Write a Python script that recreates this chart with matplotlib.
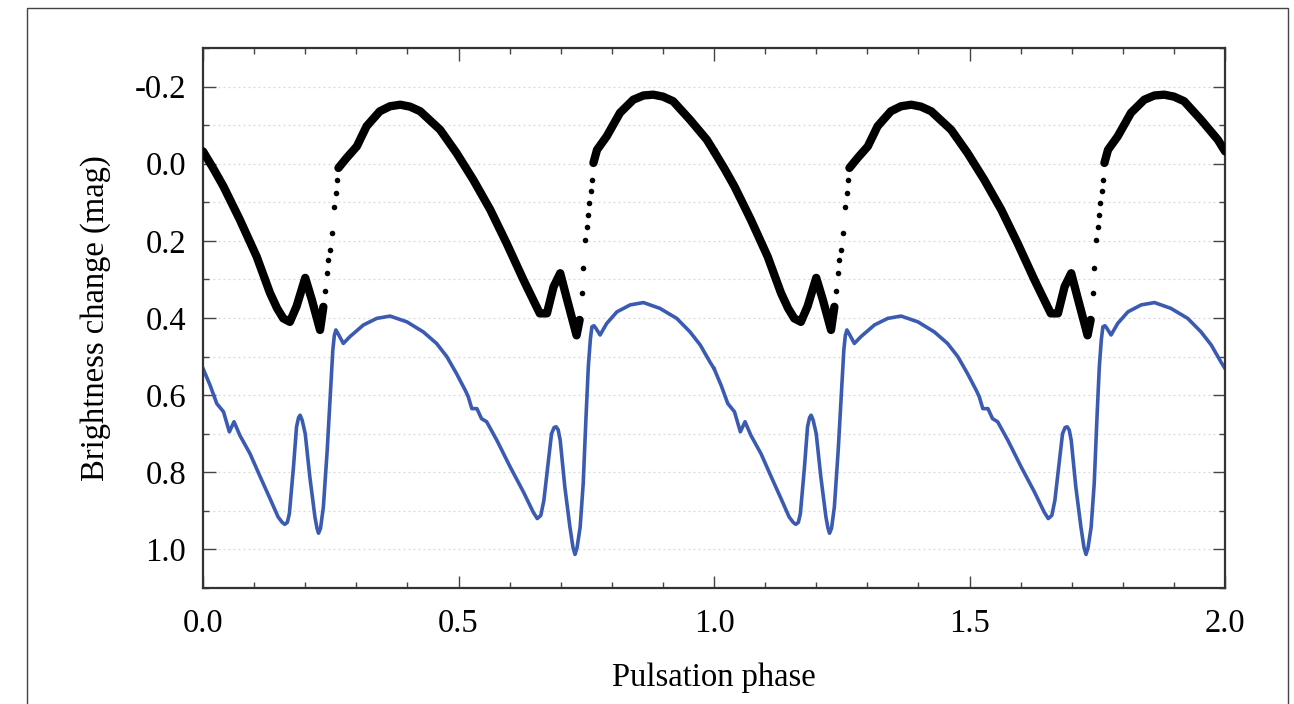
import numpy as np
import matplotlib
matplotlib.use("Agg")
import matplotlib.pyplot as plt
from matplotlib.ticker import MultipleLocator
from matplotlib.patches import Rectangle

# one pulsation cycle (phase 0-1), repeated once to reach phase 2
# observed light curve: dense band, gaps where the steep rise is
band_phase = [0.0, 0.02, 0.04, 0.072, 0.105, 0.131, 0.145, 0.157, 0.170, 0.183, 0.200,
              0.213, 0.229, 0.2355, np.nan,
              0.265, 0.281, 0.301, 0.320, 0.346, 0.366, 0.386, 0.405, 0.425, 0.464, 0.496,
              0.529, 0.562, 0.594, 0.627, 0.645, 0.659, 0.673, 0.686, 0.699, 0.711,
              0.731, 0.737, np.nan,
              0.764, 0.771, 0.790, 0.816, 0.842, 0.862, 0.881, 0.900, 0.920, 0.953, 0.986, 1.0]
band_mag = [-0.032, 0.012, 0.059, 0.145, 0.241, 0.335, 0.375, 0.401, 0.410, 0.370, 0.296,
            0.353, 0.431, 0.371, np.nan,
            0.011, -0.015, -0.045, -0.097, -0.136, -0.149, -0.153, -0.148, -0.136, -0.088, -0.028,
            0.042, 0.119, 0.206, 0.301, 0.350, 0.388, 0.388, 0.319, 0.284, 0.345,
            0.445, 0.405, np.nan,
            -0.002, -0.036, -0.071, -0.132, -0.166, -0.177, -0.179, -0.174, -0.162, -0.114, -0.062, -0.032]

# isolated points on the rising branches
rise_phase = [0.2355, 0.239, 0.242, 0.2455, 0.2485, 0.252, 0.256, 0.2595, 0.2616, 0.265,
              0.734, 0.741, 0.744, 0.7475, 0.751, 0.754, 0.756, 0.7585, 0.7606, 0.764]
rise_mag = [0.371, 0.330, 0.284, 0.250, 0.223, 0.180, 0.111, 0.075, 0.042, 0.011,
            0.405, 0.336, 0.270, 0.197, 0.163, 0.132, 0.102, 0.070, 0.042, -0.002]

# model light curve
model_phase = [0.0, 0.0137, 0.027, 0.040, 0.0515, 0.0607, 0.072, 0.092, 0.112, 0.131,
               0.147, 0.155, 0.160, 0.165, 0.169, 0.177, 0.183, 0.187, 0.190, 0.194,
               0.200, 0.209, 0.219, 0.223, 0.226, 0.230,
               0.2355, 0.243, 0.2485, 0.254, 0.257, 0.260, 0.264, 0.2746, 0.2877, 0.314, 0.340, 0.366,
               0.399, 0.431, 0.457, 0.477, 0.496, 0.513, 0.519, 0.526, 0.536, 0.545,
               0.555, 0.575, 0.601, 0.627, 0.646, 0.654, 0.661, 0.667, 0.676, 0.682,
               0.687, 0.691, 0.695, 0.699, 0.708, 0.718, 0.724, 0.728, 0.732, 0.738, 0.744,
               0.7495, 0.754, 0.758, 0.761, 0.765,
               0.769, 0.777, 0.790, 0.810, 0.836, 0.862, 0.894, 0.927, 0.953, 0.973,
               0.992, 1.0]
model_mag = [0.531, 0.574, 0.622, 0.643, 0.695, 0.669, 0.704, 0.752, 0.812, 0.868,
             0.916, 0.930, 0.935, 0.930, 0.907, 0.786, 0.682, 0.658, 0.652, 0.665,
             0.700, 0.812, 0.916, 0.945, 0.958, 0.945,
             0.890, 0.743, 0.613, 0.483, 0.445, 0.431, 0.440, 0.466, 0.448, 0.418, 0.401, 0.395,
             0.410, 0.436, 0.466, 0.500, 0.544, 0.587, 0.604, 0.635, 0.635, 0.661,
             0.669, 0.717, 0.786, 0.851, 0.903, 0.920, 0.912, 0.873, 0.769, 0.700,
             0.684, 0.682, 0.690, 0.717, 0.838, 0.942, 0.995, 1.013, 0.995, 0.942, 0.829,
             0.656, 0.526, 0.455, 0.423, 0.420,
             0.427, 0.444, 0.414, 0.384, 0.366, 0.360, 0.375, 0.401, 0.436, 0.470,
             0.514, 0.531]

plt.rcParams["font.family"] = ["Liberation Serif", "DejaVu Serif"]

fig = plt.figure(figsize=(12.94, 7.04), dpi=100)
ax = fig.add_axes([0.1569, 0.1648, 0.7898, 0.767])

# outer frame around the figure
fig.patches.append(Rectangle((27 / 1294, -0.05), 1261 / 1294, 1.05 - 8 / 704,
                             transform=fig.transFigure, fill=False,
                             edgecolor="#444444", linewidth=1.0))

for shift in [0.0, 1.0]:
    bp = np.array(band_phase) + shift
    rp = np.array(rise_phase) + shift
    mp = np.array(model_phase) + shift
    ax.plot(bp, band_mag, color="black", lw=6.0, solid_capstyle="round",
            solid_joinstyle="round", zorder=3)
    ax.scatter(rp, rise_mag, s=16, color="black", zorder=3, linewidths=0)
    ax.plot(mp, model_mag, color="#3b5bb3", lw=2.6, zorder=2,
            solid_joinstyle="round")

ax.set_xlim(0, 2)
ax.set_ylim(1.1, -0.3)

ax.xaxis.set_major_locator(MultipleLocator(0.5))
ax.xaxis.set_minor_locator(MultipleLocator(0.1))
ax.yaxis.set_major_locator(MultipleLocator(0.2))
ax.yaxis.set_minor_locator(MultipleLocator(0.1))
ax.xaxis.set_major_formatter(plt.FuncFormatter(lambda v, p: f"{v:.1f}"))
ax.yaxis.set_major_formatter(plt.FuncFormatter(lambda v, p: f"{v:.1f}"))

ax.tick_params(which="both", direction="in", top=True, right=True,
               color="#444444", labelsize=23.5)
ax.tick_params(which="major", length=9, width=1.0)
ax.tick_params(which="minor", length=4, width=1.0)
ax.tick_params(axis="x", which="major", pad=15)
ax.tick_params(axis="y", which="major", pad=12)

ax.grid(True, axis="y", which="both", linestyle=(0, (1.5, 2.5)),
        color="#d8d8d8", linewidth=0.9)
ax.set_axisbelow(True)

for sp in ax.spines.values():
    sp.set_color("#333333")
    sp.set_linewidth(1.6)

ax.set_xlabel("Pulsation phase", fontsize=23.5, labelpad=17)
ax.set_ylabel("Brightness change (mag)", fontsize=23.5, labelpad=17)

fig.savefig("out.png", dpi=100)
